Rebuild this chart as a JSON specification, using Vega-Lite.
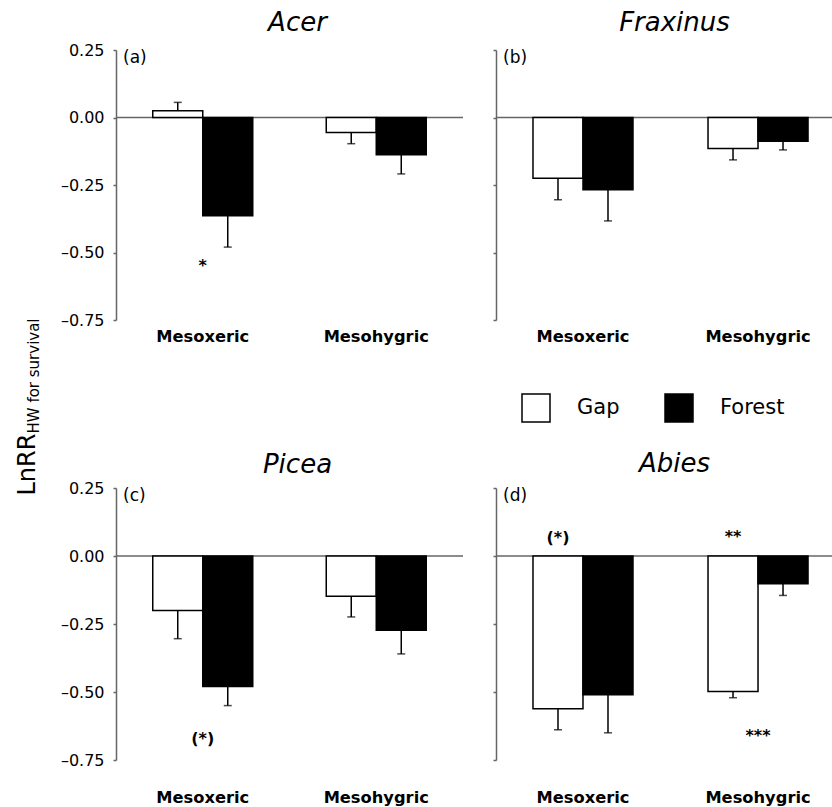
{
  "$schema": "https://vega.github.io/schema/vega-lite/v6.json",
  "padding": {"left": 15, "top": 10, "right": 0, "bottom": 0},
  "autosize": {"type": "pad"},
  "bounds": "flush",
  "columns": 2,
  "spacing": {"row": 168, "column": 33},
  "datasets": {
    "bars": [
      {"species": "Acer", "site": "Mesoxeric", "treatment": "Gap", "value": 0.025, "err": 0.056},
      {"species": "Acer", "site": "Mesoxeric", "treatment": "Forest", "value": -0.364, "err": -0.48},
      {"species": "Acer", "site": "Mesohygric", "treatment": "Gap", "value": -0.056, "err": -0.097},
      {"species": "Acer", "site": "Mesohygric", "treatment": "Forest", "value": -0.138, "err": -0.209},
      {"species": "Fraxinus", "site": "Mesoxeric", "treatment": "Gap", "value": -0.225, "err": -0.305},
      {"species": "Fraxinus", "site": "Mesoxeric", "treatment": "Forest", "value": -0.268, "err": -0.383},
      {"species": "Fraxinus", "site": "Mesohygric", "treatment": "Gap", "value": -0.115, "err": -0.157},
      {"species": "Fraxinus", "site": "Mesohygric", "treatment": "Forest", "value": -0.088, "err": -0.12},
      {"species": "Picea", "site": "Mesoxeric", "treatment": "Gap", "value": -0.2, "err": -0.304},
      {"species": "Picea", "site": "Mesoxeric", "treatment": "Forest", "value": -0.48, "err": -0.55},
      {"species": "Picea", "site": "Mesohygric", "treatment": "Gap", "value": -0.148, "err": -0.224},
      {"species": "Picea", "site": "Mesohygric", "treatment": "Forest", "value": -0.273, "err": -0.36},
      {"species": "Abies", "site": "Mesoxeric", "treatment": "Gap", "value": -0.562, "err": -0.639},
      {"species": "Abies", "site": "Mesoxeric", "treatment": "Forest", "value": -0.51, "err": -0.65},
      {"species": "Abies", "site": "Mesohygric", "treatment": "Gap", "value": -0.498, "err": -0.521},
      {"species": "Abies", "site": "Mesohygric", "treatment": "Forest", "value": -0.102, "err": -0.145}
    ],
    "notes": [
      {"species": "Acer", "site": "Mesoxeric", "treatment": "Gap", "anchor": "group", "y": -0.55, "label": "*"},
      {"species": "Picea", "site": "Mesoxeric", "treatment": "Gap", "anchor": "group", "y": -0.672, "label": "(*)"},
      {"species": "Abies", "site": "Mesohygric", "treatment": "Gap", "anchor": "group", "y": -0.66, "label": "***"},
      {"species": "Abies", "site": "Mesoxeric", "treatment": "Gap", "anchor": "bar", "y": 0.068, "label": "(*)"},
      {"species": "Abies", "site": "Mesohygric", "treatment": "Gap", "anchor": "bar", "y": 0.07, "label": "**"}
    ],
    "tags": [
      {"species": "Acer", "tag": "(a)"},
      {"species": "Fraxinus", "tag": "(b)"},
      {"species": "Picea", "tag": "(c)"},
      {"species": "Abies", "tag": "(d)"}
    ]
  },
  "concat": [
    {
      "width": 347, "height": 270,
      "title": {"text": "Acer", "font": "DejaVu Sans", "fontSize": 26, "fontStyle": "italic", "fontWeight": "normal", "color": "black", "anchor": "middle", "frame": "group", "dx": 8, "offset": -15, "baseline": "alphabetic"},
      "layer": [
        {"data": {"values": [{}]}, "mark": {"type": "rule", "color": "#666666", "strokeWidth": 1.5}, "encoding": {"y": {"datum": 0, "type": "quantitative", "scale": {"domain": [-0.75, 0.25], "nice": false}, "title": "LnRR"}}},
        {"data": {"name": "bars"}, "transform": [{"filter": "datum.species === 'Acer'"}],
         "mark": {"type": "bar", "stroke": "black", "strokeWidth": 1.5},
         "encoding": {
           "x": {"field": "site", "type": "nominal", "sort": ["Mesoxeric", "Mesohygric"], "scale": {"paddingInner": 0.4236, "paddingOuter": 0.2118}, "axis": {"title": "HW for survival", "titleFont": "DejaVu Sans", "titleFontSize": 15, "titleFontWeight": "normal", "titleAngle": 270, "titleAlign": "left", "titleBaseline": "alphabetic", "titleX": -78, "titleY": 113, "titleColor": "black", "domain": false, "ticks": false, "tickSize": 0, "labelAngle": 0, "labelFontSize": 16.3, "labelFontWeight": "bold", "labelPadding": 8}},
           "xOffset": {"field": "treatment", "type": "nominal", "sort": ["Gap", "Forest"], "scale": {"paddingInner": 0, "paddingOuter": 0}},
           "y": {"field": "value", "type": "quantitative", "scale": {"domain": [-0.75, 0.25], "nice": false}, "axis": {"values": [0.25, 0, -0.25, -0.5, -0.75], "labelExpr": "datum.value < 0 ? '–' + format(-datum.value, '.2f') : format(datum.value, '.2f')", "labelFontSize": 16, "tickSize": 3, "labelPadding": 9, "title": "LnRR", "titleFont": "DejaVu Sans", "titleFontSize": 24, "titleFontWeight": "normal", "titleAngle": 270, "titleAlign": "left", "titleBaseline": "alphabetic", "titleX": -82, "titleY": 445, "titleColor": "black"}},
           "fill": {"field": "treatment", "type": "nominal", "scale": {"domain": ["Gap", "Forest"], "range": ["white", "black"]}, "legend": {"orient": "none", "legendX": 405, "legendY": 343, "direction": "horizontal", "title": null, "symbolType": "square", "symbolSize": 784, "symbolStrokeColor": "black", "symbolStrokeWidth": 1.5, "labelFontSize": 21, "labelFont": "DejaVu Sans", "labelColor": "black", "labelOffset": 26, "columnPadding": 42}}
         }},
        {"data": {"name": "bars"}, "transform": [{"filter": "datum.species === 'Acer'"}],
         "mark": {"type": "rule", "color": "black", "strokeWidth": 1.5},
         "encoding": {
           "x": {"field": "site", "type": "nominal", "sort": ["Mesoxeric", "Mesohygric"], "title": "HW for survival"},
           "xOffset": {"field": "treatment", "type": "nominal", "sort": ["Gap", "Forest"]},
           "y": {"field": "value", "type": "quantitative", "title": "LnRR"}, "y2": {"field": "err"}
         }},
        {"data": {"name": "bars"}, "transform": [{"filter": "datum.species === 'Acer'"}],
         "mark": {"type": "tick", "color": "black", "size": 8, "thickness": 1.5},
         "encoding": {
           "x": {"field": "site", "type": "nominal", "sort": ["Mesoxeric", "Mesohygric"], "title": "HW for survival"},
           "xOffset": {"field": "treatment", "type": "nominal", "sort": ["Gap", "Forest"]},
           "y": {"field": "err", "type": "quantitative", "title": "LnRR"}
         }},
        {"data": {"name": "notes"}, "transform": [{"filter": "datum.species === 'Acer' && datum.anchor === 'group'"}],
         "mark": {"type": "text", "font": "DejaVu Sans", "fontSize": 16, "fontWeight": "bold", "color": "black", "baseline": "middle"},
         "encoding": {
           "x": {"field": "site", "type": "nominal", "sort": ["Mesoxeric", "Mesohygric"], "title": "HW for survival"},
           "y": {"field": "y", "type": "quantitative", "title": "LnRR"},
           "text": {"field": "label"}
         }},
        {"data": {"name": "tags"}, "transform": [{"filter": "datum.species === 'Acer'"}],
         "mark": {"type": "text", "font": "DejaVu Sans", "fontSize": 17, "color": "black", "align": "left", "baseline": "middle", "dx": 7, "dy": 8},
         "encoding": {
           "x": {"value": 0},
           "y": {"datum": 0.25, "type": "quantitative", "title": "LnRR"},
           "text": {"field": "tag"}
         }}
      ]
    },
    {
      "width": 337, "height": 270,
      "title": {"text": "Fraxinus", "font": "DejaVu Sans", "fontSize": 26, "fontStyle": "italic", "fontWeight": "normal", "color": "black", "anchor": "middle", "frame": "group", "dx": 10, "offset": -8, "baseline": "alphabetic"},
      "layer": [
        {"data": {"values": [{}]}, "mark": {"type": "rule", "color": "#666666", "strokeWidth": 1.5}, "encoding": {"y": {"datum": 0, "type": "quantitative", "scale": {"domain": [-0.75, 0.25], "nice": false}, "title": null}}},
        {"data": {"name": "bars"}, "transform": [{"filter": "datum.species === 'Fraxinus'"}],
         "mark": {"type": "bar", "stroke": "black", "strokeWidth": 1.5},
         "encoding": {
           "x": {"field": "site", "type": "nominal", "sort": ["Mesoxeric", "Mesohygric"], "scale": {"paddingInner": 0.4286, "paddingOuter": 0.177, "align": 0.597}, "axis": {"title": null, "domain": false, "ticks": false, "tickSize": 0, "labelAngle": 0, "labelFontSize": 16.3, "labelFontWeight": "bold", "labelPadding": 8}},
           "xOffset": {"field": "treatment", "type": "nominal", "sort": ["Gap", "Forest"], "scale": {"paddingInner": 0, "paddingOuter": 0}},
           "y": {"field": "value", "type": "quantitative", "scale": {"domain": [-0.75, 0.25], "nice": false}, "axis": {"values": [0.25, 0, -0.25, -0.5, -0.75], "labels": false, "tickSize": 3, "title": null}},
           "fill": {"field": "treatment", "type": "nominal", "scale": {"domain": ["Gap", "Forest"], "range": ["white", "black"]}, "legend": {"orient": "none", "legendX": 405, "legendY": 343, "direction": "horizontal", "title": null, "symbolType": "square", "symbolSize": 784, "symbolStrokeColor": "black", "symbolStrokeWidth": 1.5, "labelFontSize": 21, "labelFont": "DejaVu Sans", "labelColor": "black", "labelOffset": 26, "columnPadding": 42}}
         }},
        {"data": {"name": "bars"}, "transform": [{"filter": "datum.species === 'Fraxinus'"}],
         "mark": {"type": "rule", "color": "black", "strokeWidth": 1.5},
         "encoding": {
           "x": {"field": "site", "type": "nominal", "sort": ["Mesoxeric", "Mesohygric"], "title": null},
           "xOffset": {"field": "treatment", "type": "nominal", "sort": ["Gap", "Forest"]},
           "y": {"field": "value", "type": "quantitative", "title": null}, "y2": {"field": "err"}
         }},
        {"data": {"name": "bars"}, "transform": [{"filter": "datum.species === 'Fraxinus'"}],
         "mark": {"type": "tick", "color": "black", "size": 8, "thickness": 1.5},
         "encoding": {
           "x": {"field": "site", "type": "nominal", "sort": ["Mesoxeric", "Mesohygric"], "title": null},
           "xOffset": {"field": "treatment", "type": "nominal", "sort": ["Gap", "Forest"]},
           "y": {"field": "err", "type": "quantitative", "title": null}
         }},
        {"data": {"name": "tags"}, "transform": [{"filter": "datum.species === 'Fraxinus'"}],
         "mark": {"type": "text", "font": "DejaVu Sans", "fontSize": 17, "color": "black", "align": "left", "baseline": "middle", "dx": 7, "dy": 8},
         "encoding": {
           "x": {"value": 0},
           "y": {"datum": 0.25, "type": "quantitative", "title": null},
           "text": {"field": "tag"}
         }}
      ]
    },
    {
      "width": 347, "height": 272,
      "title": {"text": "Picea", "font": "DejaVu Sans", "fontSize": 26, "fontStyle": "italic", "fontWeight": "normal", "color": "black", "anchor": "middle", "frame": "group", "dx": 8, "offset": -18.5, "baseline": "alphabetic"},
      "layer": [
        {"data": {"values": [{}]}, "mark": {"type": "rule", "color": "#666666", "strokeWidth": 1.5}, "encoding": {"y": {"datum": 0, "type": "quantitative", "scale": {"domain": [-0.75, 0.25], "nice": false}, "title": null}}},
        {"data": {"name": "bars"}, "transform": [{"filter": "datum.species === 'Picea'"}],
         "mark": {"type": "bar", "stroke": "black", "strokeWidth": 1.5},
         "encoding": {
           "x": {"field": "site", "type": "nominal", "sort": ["Mesoxeric", "Mesohygric"], "scale": {"paddingInner": 0.4236, "paddingOuter": 0.2118}, "axis": {"title": null, "domain": false, "ticks": false, "tickSize": 0, "labelAngle": 0, "labelFontSize": 16.3, "labelFontWeight": "bold", "labelPadding": 29}},
           "xOffset": {"field": "treatment", "type": "nominal", "sort": ["Gap", "Forest"], "scale": {"paddingInner": 0, "paddingOuter": 0}},
           "y": {"field": "value", "type": "quantitative", "scale": {"domain": [-0.75, 0.25], "nice": false}, "axis": {"values": [0.25, 0, -0.25, -0.5, -0.75], "labelExpr": "datum.value < 0 ? '–' + format(-datum.value, '.2f') : format(datum.value, '.2f')", "labelFontSize": 16, "tickSize": 3, "labelPadding": 9, "title": null}},
           "fill": {"field": "treatment", "type": "nominal", "scale": {"domain": ["Gap", "Forest"], "range": ["white", "black"]}, "legend": {"orient": "none", "legendX": 405, "legendY": 343, "direction": "horizontal", "title": null, "symbolType": "square", "symbolSize": 784, "symbolStrokeColor": "black", "symbolStrokeWidth": 1.5, "labelFontSize": 21, "labelFont": "DejaVu Sans", "labelColor": "black", "labelOffset": 26, "columnPadding": 42}}
         }},
        {"data": {"name": "bars"}, "transform": [{"filter": "datum.species === 'Picea'"}],
         "mark": {"type": "rule", "color": "black", "strokeWidth": 1.5},
         "encoding": {
           "x": {"field": "site", "type": "nominal", "sort": ["Mesoxeric", "Mesohygric"], "title": null},
           "xOffset": {"field": "treatment", "type": "nominal", "sort": ["Gap", "Forest"]},
           "y": {"field": "value", "type": "quantitative", "title": null}, "y2": {"field": "err"}
         }},
        {"data": {"name": "bars"}, "transform": [{"filter": "datum.species === 'Picea'"}],
         "mark": {"type": "tick", "color": "black", "size": 8, "thickness": 1.5},
         "encoding": {
           "x": {"field": "site", "type": "nominal", "sort": ["Mesoxeric", "Mesohygric"], "title": null},
           "xOffset": {"field": "treatment", "type": "nominal", "sort": ["Gap", "Forest"]},
           "y": {"field": "err", "type": "quantitative", "title": null}
         }},
        {"data": {"name": "notes"}, "transform": [{"filter": "datum.species === 'Picea' && datum.anchor === 'group'"}],
         "mark": {"type": "text", "font": "DejaVu Sans", "fontSize": 16, "fontWeight": "bold", "color": "black", "baseline": "middle"},
         "encoding": {
           "x": {"field": "site", "type": "nominal", "sort": ["Mesoxeric", "Mesohygric"], "title": null},
           "y": {"field": "y", "type": "quantitative", "title": null},
           "text": {"field": "label"}
         }},
        {"data": {"name": "tags"}, "transform": [{"filter": "datum.species === 'Picea'"}],
         "mark": {"type": "text", "font": "DejaVu Sans", "fontSize": 17, "color": "black", "align": "left", "baseline": "middle", "dx": 7, "dy": 8},
         "encoding": {
           "x": {"value": 0},
           "y": {"datum": 0.25, "type": "quantitative", "title": null},
           "text": {"field": "tag"}
         }}
      ]
    },
    {
      "width": 337, "height": 272,
      "title": {"text": "Abies", "font": "DejaVu Sans", "fontSize": 26, "fontStyle": "italic", "fontWeight": "normal", "color": "black", "anchor": "middle", "frame": "group", "dx": 10, "offset": -11, "baseline": "alphabetic"},
      "layer": [
        {"data": {"values": [{}]}, "mark": {"type": "rule", "color": "#666666", "strokeWidth": 1.5}, "encoding": {"y": {"datum": 0, "type": "quantitative", "scale": {"domain": [-0.75, 0.25], "nice": false}, "title": null}}},
        {"data": {"name": "bars"}, "transform": [{"filter": "datum.species === 'Abies'"}],
         "mark": {"type": "bar", "stroke": "black", "strokeWidth": 1.5},
         "encoding": {
           "x": {"field": "site", "type": "nominal", "sort": ["Mesoxeric", "Mesohygric"], "scale": {"paddingInner": 0.4286, "paddingOuter": 0.177, "align": 0.597}, "axis": {"title": null, "domain": false, "ticks": false, "tickSize": 0, "labelAngle": 0, "labelFontSize": 16.3, "labelFontWeight": "bold", "labelPadding": 29}},
           "xOffset": {"field": "treatment", "type": "nominal", "sort": ["Gap", "Forest"], "scale": {"paddingInner": 0, "paddingOuter": 0}},
           "y": {"field": "value", "type": "quantitative", "scale": {"domain": [-0.75, 0.25], "nice": false}, "axis": {"values": [0.25, 0, -0.25, -0.5, -0.75], "labels": false, "tickSize": 3, "title": null}},
           "fill": {"field": "treatment", "type": "nominal", "scale": {"domain": ["Gap", "Forest"], "range": ["white", "black"]}, "legend": {"orient": "none", "legendX": 405, "legendY": 343, "direction": "horizontal", "title": null, "symbolType": "square", "symbolSize": 784, "symbolStrokeColor": "black", "symbolStrokeWidth": 1.5, "labelFontSize": 21, "labelFont": "DejaVu Sans", "labelColor": "black", "labelOffset": 26, "columnPadding": 42}}
         }},
        {"data": {"name": "bars"}, "transform": [{"filter": "datum.species === 'Abies'"}],
         "mark": {"type": "rule", "color": "black", "strokeWidth": 1.5},
         "encoding": {
           "x": {"field": "site", "type": "nominal", "sort": ["Mesoxeric", "Mesohygric"], "title": null},
           "xOffset": {"field": "treatment", "type": "nominal", "sort": ["Gap", "Forest"]},
           "y": {"field": "value", "type": "quantitative", "title": null}, "y2": {"field": "err"}
         }},
        {"data": {"name": "bars"}, "transform": [{"filter": "datum.species === 'Abies'"}],
         "mark": {"type": "tick", "color": "black", "size": 8, "thickness": 1.5},
         "encoding": {
           "x": {"field": "site", "type": "nominal", "sort": ["Mesoxeric", "Mesohygric"], "title": null},
           "xOffset": {"field": "treatment", "type": "nominal", "sort": ["Gap", "Forest"]},
           "y": {"field": "err", "type": "quantitative", "title": null}
         }},
        {"data": {"name": "notes"}, "transform": [{"filter": "datum.species === 'Abies' && datum.anchor === 'group'"}],
         "mark": {"type": "text", "font": "DejaVu Sans", "fontSize": 16, "fontWeight": "bold", "color": "black", "baseline": "middle"},
         "encoding": {
           "x": {"field": "site", "type": "nominal", "sort": ["Mesoxeric", "Mesohygric"], "title": null},
           "y": {"field": "y", "type": "quantitative", "title": null},
           "text": {"field": "label"}
         }},
        {"data": {"name": "notes"}, "transform": [{"filter": "datum.species === 'Abies' && datum.anchor === 'bar'"}],
         "mark": {"type": "text", "font": "DejaVu Sans", "fontSize": 16, "fontWeight": "bold", "color": "black", "baseline": "middle"},
         "encoding": {
           "x": {"field": "site", "type": "nominal", "sort": ["Mesoxeric", "Mesohygric"], "title": null},
           "xOffset": {"field": "treatment", "type": "nominal", "sort": ["Gap", "Forest"]},
           "y": {"field": "y", "type": "quantitative", "title": null},
           "text": {"field": "label"}
         }},
        {"data": {"name": "tags"}, "transform": [{"filter": "datum.species === 'Abies'"}],
         "mark": {"type": "text", "font": "DejaVu Sans", "fontSize": 17, "color": "black", "align": "left", "baseline": "middle", "dx": 7, "dy": 8},
         "encoding": {
           "x": {"value": 0},
           "y": {"datum": 0.25, "type": "quantitative", "title": null},
           "text": {"field": "tag"}
         }}
      ]
    }
  ],
  "config": {
    "font": "DejaVu Sans",
    "view": {"stroke": null},
    "axis": {"domainColor": "#666666", "tickColor": "#666666", "domainWidth": 1.5, "tickWidth": 1.5, "grid": false, "labelFont": "DejaVu Sans", "labelColor": "black"},
    "legend": {"padding": 0}
  }
}
